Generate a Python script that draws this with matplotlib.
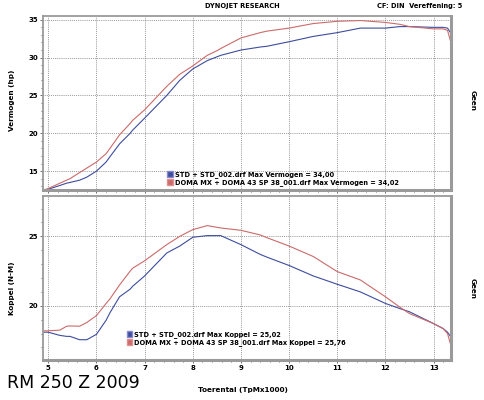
import matplotlib
matplotlib.use("Agg")
import matplotlib.pyplot as plt
from matplotlib.patches import Patch
from matplotlib.ticker import MultipleLocator

# rpm (x1000) sample points
rpm = [4.9, 5.0, 5.24, 5.38, 5.45, 5.65, 5.8, 6.0, 6.2, 6.28, 6.48, 6.7, 6.75, 7.0,
       7.46, 7.73, 8.0, 8.3, 8.5, 8.58, 9.0, 9.4, 9.54, 10.0, 10.5, 11.0, 11.48,
       12.0, 12.3, 12.5, 13.0, 13.2, 13.29, 13.36]

# power (hp)
hp_std = [12.45, 12.6, 13.1, 13.4, 13.5, 13.8, 14.2, 15.0, 16.2, 16.9, 18.6, 20.0, 20.4,
          22.0, 25.0, 27.0, 28.5, 29.6, 30.1, 30.3, 31.0, 31.4, 31.5, 32.1, 32.8, 33.3,
          33.9, 33.9, 34.1, 34.1, 34.0, 34.0, 33.9, 33.2]
hp_doma = [12.5, 12.7, 13.4, 13.8, 14.0, 14.8, 15.4, 16.2, 17.3, 18.0, 19.8, 21.3, 21.7,
           23.1, 26.2, 27.8, 28.9, 30.3, 30.9, 31.2, 32.6, 33.3, 33.5, 33.9, 34.5, 34.8,
           34.9, 34.65, 34.4, 34.1, 33.8, 33.8, 33.6, 32.0]

# torque (N-M)
nm_std = [18.1, 18.1, 17.87, 17.8, 17.8, 17.56, 17.56, 17.95, 18.96, 19.5, 20.65, 21.2,
          21.4, 22.15, 23.8, 24.3, 24.93, 25.05, 25.05, 25.05, 24.4, 23.7, 23.5, 22.9,
          22.15, 21.55, 21.0, 20.17, 19.8, 19.57, 18.72, 18.36, 18.1, 17.75]
nm_doma = [18.2, 18.2, 18.25, 18.53, 18.55, 18.53, 18.8, 19.3, 20.17, 20.5, 21.5, 22.5,
           22.7, 23.24, 24.4, 25.0, 25.48, 25.77, 25.65, 25.6, 25.43, 25.1, 24.9, 24.3,
           23.55, 22.46, 21.86, 20.65, 19.9, 19.44, 18.72, 18.36, 18.0, 17.15]

std_label_hp = "STD + STD_002.drf Max Vermogen = 34,00"
doma_label_hp = "DOMA MX + DOMA 43 SP 38_001.drf Max Vermogen = 34,02"
std_label_nm = "STD + STD_002.drf Max Koppel = 25,02"
doma_label_nm = "DOMA MX + DOMA 43 SP 38_001.drf Max Koppel = 25,76"

BLUE = "#3d4d9e"
RED = "#cc6a6a"


def style_axes(ax):
    ax.set_xlim(4.89, 13.36)
    ax.xaxis.set_major_locator(MultipleLocator(1))
    ax.xaxis.set_minor_locator(MultipleLocator(0.2))
    ax.grid(True, which="major", linestyle=(0, (1, 1.5)), color="#666666", linewidth=0.55)
    for s in ax.spines.values():
        s.set_color("#9a9a9a")
        s.set_linewidth(1.3)
    ax.spines["right"].set_linewidth(2.2)
    ax.spines["bottom"].set_linewidth(2.2)
    ax.tick_params(which="both", labelsize=5, length=2, width=0.6, color="#555555", pad=1.5)
    ax.tick_params(which="minor", length=1.2)
    for lbl in ax.get_xticklabels() + ax.get_yticklabels():
        lbl.set_fontweight("bold")


fig = plt.figure(figsize=(4.85, 4.0), dpi=100)

# power panel
ax1 = fig.add_axes([0.0887, 0.525, 0.841, 0.435])
ax1.plot(rpm, hp_std, color=BLUE, linewidth=0.8)
ax1.plot(rpm, hp_doma, color=RED, linewidth=0.8)
ax1.set_ylim(12.5, 35.5)
ax1.yaxis.set_major_locator(MultipleLocator(5))
ax1.yaxis.set_minor_locator(MultipleLocator(1))
style_axes(ax1)
ax1.tick_params(axis="x", labelbottom=False)
ax1.legend(handles=[Patch(facecolor=BLUE, edgecolor="#8888cc"), Patch(facecolor=RED, edgecolor="#e09090")],
           labels=[std_label_hp, doma_label_hp], loc="lower left", bbox_to_anchor=(0.29, -0.01),
           frameon=False, handlelength=0.8, handleheight=1.0, handletextpad=0.3,
           labelspacing=0.05, prop={"size": 4.8, "weight": "bold"})

# torque panel
ax2 = fig.add_axes([0.0887, 0.10, 0.841, 0.41])
ax2.plot(rpm, nm_std, color=BLUE, linewidth=0.8)
ax2.plot(rpm, nm_doma, color=RED, linewidth=0.8)
ax2.set_ylim(16.1, 27.9)
ax2.yaxis.set_major_locator(MultipleLocator(5))
ax2.yaxis.set_minor_locator(MultipleLocator(1))
style_axes(ax2)
ax2.legend(handles=[Patch(facecolor=BLUE, edgecolor="#8888cc"), Patch(facecolor=RED, edgecolor="#e09090")],
           labels=[std_label_nm, doma_label_nm], loc="lower left", bbox_to_anchor=(0.19, 0.05),
           frameon=False, handlelength=0.8, handleheight=1.0, handletextpad=0.3,
           labelspacing=0.05, prop={"size": 4.8, "weight": "bold"})

# header and side labels
fig.text(0.5, 0.985, "DYNOJET RESEARCH", ha="center", va="center", fontsize=4.8, fontweight="bold")
fig.text(0.953, 0.985, "CF: DIN  Vereffening: 5", ha="right", va="center", fontsize=4.8, fontweight="bold")
fig.text(0.025, 0.75, "Vermogen (hp)", rotation=90, ha="center", va="center", fontsize=5.2, fontweight="bold")
fig.text(0.025, 0.28, "Koppel (N-M)", rotation=90, ha="center", va="center", fontsize=5.2, fontweight="bold")
fig.text(0.975, 0.75, "Geen", rotation=270, ha="center", va="center", fontsize=5.2, fontweight="bold")
fig.text(0.975, 0.28, "Geen", rotation=270, ha="center", va="center", fontsize=5.2, fontweight="bold")
fig.text(0.5, 0.025, "Toerental (TpMx1000)", ha="center", va="center", fontsize=5.2, fontweight="bold")
fig.text(0.015, 0.042, "RM 250 Z 2009", ha="left", va="center", fontsize=12.5)

fig.savefig("out.png", dpi=100)
